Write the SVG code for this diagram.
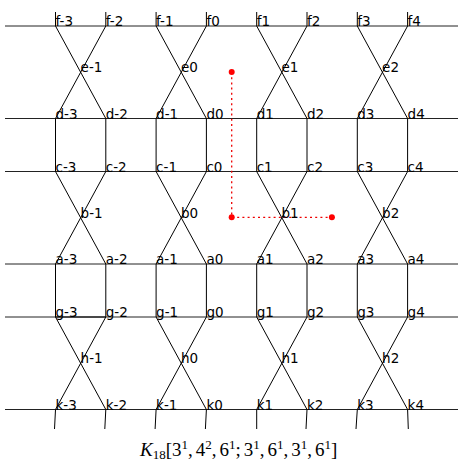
<svg xmlns="http://www.w3.org/2000/svg" width="466" height="465" viewBox="0 0 466 465">
<style>
.ln{stroke:#000;stroke-width:1;fill:none}
.hl{stroke:#222;stroke-width:1;fill:none}
.lb{font-family:"DejaVu Sans",sans-serif;font-size:13.5px;fill:#000}
.rd{stroke:#e00;stroke-width:1.3;stroke-dasharray:2,3.2;fill:none}
.dot{fill:#f00}
.cap{font-family:"Liberation Serif",serif;font-size:19px;fill:#000}
</style>
<rect width="466" height="465" fill="#fff"/>
<g id="connectors">
<path class="hl" d="M5 26H458M5 118.5H458M5 171.5H458M5 264H458M5 317H458M5 409.5H458"/>
<path class="ln" stroke-width="1.6" d="M55.5 317H105.8"/>
<path class="ln" d="M55.5 26V12M105.8 26V12M156.1 26V12M206.4 26V12M256.7 26V12M307 26V12M357.3 26V12M407.6 26V12"/>
<path class="ln" d="M55.5 26L105.8 118.5M105.8 26L55.5 118.5M156.1 26L206.4 118.5M206.4 26L156.1 118.5M256.7 26L307 118.5M307 26L256.7 118.5M357.3 26L407.6 118.5M407.6 26L357.3 118.5"/>
<path class="ln" d="M55.5 118.5V171.5M105.8 118.5V171.5M156.1 118.5V171.5M206.4 118.5V171.5M256.7 118.5V171.5M307 118.5V171.5M357.3 118.5V171.5M407.6 118.5V171.5"/>
<path class="ln" d="M55.5 171.5L105.8 264M105.8 171.5L55.5 264M156.1 171.5L206.4 264M206.4 171.5L156.1 264M256.7 171.5L307 264M307 171.5L256.7 264M357.3 171.5L407.6 264M407.6 171.5L357.3 264"/>
<path class="ln" d="M55.5 264V317M105.8 264V317M156.1 264V317M206.4 264V317M256.7 264V317M307 264V317M357.3 264V317M407.6 264V317"/>
<path class="ln" d="M55.5 317L105.8 409.5M105.8 317L55.5 409.5M156.1 317L206.4 409.5M206.4 317L156.1 409.5M256.7 317L307 409.5M307 317L256.7 409.5M357.3 317L407.6 409.5M407.6 317L357.3 409.5"/>
<path class="ln" d="M55.5 409.5L54.5 429M105.8 409.5L104.8 429M156.1 409.5L155.1 429M206.4 409.5L205.4 429M256.7 409.5L256.7 429M307 409.5L306 429M357.3 409.5L356 429M407.6 409.5L408.3 429"/>
<path class="rd" d="M231.7 72V217.3H331.9"/>
<circle class="dot" cx="231.7" cy="72" r="3"/>
<circle class="dot" cx="231.7" cy="217.3" r="3"/>
<circle class="dot" cx="331.9" cy="217.3" r="3"/>
</g>
<g id="f-3"><text class="lb" x="55.5" y="26">f-3</text></g>
<g id="f-2"><text class="lb" x="105.8" y="26">f-2</text></g>
<g id="f-1"><text class="lb" x="156.1" y="26">f-1</text></g>
<g id="f0"><text class="lb" x="206.4" y="26">f0</text></g>
<g id="f1"><text class="lb" x="256.7" y="26">f1</text></g>
<g id="f2"><text class="lb" x="307" y="26">f2</text></g>
<g id="f3"><text class="lb" x="357.3" y="26">f3</text></g>
<g id="f4"><text class="lb" x="407.6" y="26">f4</text></g>
<g id="e-1"><text class="lb" x="80.6" y="72">e-1</text></g>
<g id="e0"><text class="lb" x="180.9" y="72">e0</text></g>
<g id="e1"><text class="lb" x="281.5" y="72">e1</text></g>
<g id="e2"><text class="lb" x="382.1" y="72">e2</text></g>
<g id="d-3"><text class="lb" x="55.5" y="118.5">d-3</text></g>
<g id="d-2"><text class="lb" x="105.8" y="118.5">d-2</text></g>
<g id="d-1"><text class="lb" x="156.1" y="118.5">d-1</text></g>
<g id="d0"><text class="lb" x="206.4" y="118.5">d0</text></g>
<g id="d1"><text class="lb" x="256.7" y="118.5">d1</text></g>
<g id="d2"><text class="lb" x="307" y="118.5">d2</text></g>
<g id="d3"><text class="lb" x="357.3" y="118.5">d3</text></g>
<g id="d4"><text class="lb" x="407.6" y="118.5">d4</text></g>
<g id="c-3"><text class="lb" x="55.5" y="171.5">c-3</text></g>
<g id="c-2"><text class="lb" x="105.8" y="171.5">c-2</text></g>
<g id="c-1"><text class="lb" x="156.1" y="171.5">c-1</text></g>
<g id="c0"><text class="lb" x="206.4" y="171.5">c0</text></g>
<g id="c1"><text class="lb" x="256.7" y="171.5">c1</text></g>
<g id="c2"><text class="lb" x="307" y="171.5">c2</text></g>
<g id="c3"><text class="lb" x="357.3" y="171.5">c3</text></g>
<g id="c4"><text class="lb" x="407.6" y="171.5">c4</text></g>
<g id="b-1"><text class="lb" x="80.6" y="218">b-1</text></g>
<g id="b0"><text class="lb" x="180.9" y="218">b0</text></g>
<g id="b1"><text class="lb" x="281.5" y="218">b1</text></g>
<g id="b2"><text class="lb" x="382.1" y="218">b2</text></g>
<g id="a-3"><text class="lb" x="55.5" y="264">a-3</text></g>
<g id="a-2"><text class="lb" x="105.8" y="264">a-2</text></g>
<g id="a-1"><text class="lb" x="156.1" y="264">a-1</text></g>
<g id="a0"><text class="lb" x="206.4" y="264">a0</text></g>
<g id="a1"><text class="lb" x="256.7" y="264">a1</text></g>
<g id="a2"><text class="lb" x="307" y="264">a2</text></g>
<g id="a3"><text class="lb" x="357.3" y="264">a3</text></g>
<g id="a4"><text class="lb" x="407.6" y="264">a4</text></g>
<g id="g-3"><text class="lb" x="55.5" y="317">g-3</text></g>
<g id="g-2"><text class="lb" x="105.8" y="317">g-2</text></g>
<g id="g-1"><text class="lb" x="156.1" y="317">g-1</text></g>
<g id="g0"><text class="lb" x="206.4" y="317">g0</text></g>
<g id="g1"><text class="lb" x="256.7" y="317">g1</text></g>
<g id="g2"><text class="lb" x="307" y="317">g2</text></g>
<g id="g3"><text class="lb" x="357.3" y="317">g3</text></g>
<g id="g4"><text class="lb" x="407.6" y="317">g4</text></g>
<g id="h-1"><text class="lb" x="80.6" y="363">h-1</text></g>
<g id="h0"><text class="lb" x="180.9" y="363">h0</text></g>
<g id="h1"><text class="lb" x="281.5" y="363">h1</text></g>
<g id="h2"><text class="lb" x="382.1" y="363">h2</text></g>
<g id="k-3"><text class="lb" x="55.5" y="409.5">k-3</text></g>
<g id="k-2"><text class="lb" x="105.8" y="409.5">k-2</text></g>
<g id="k-1"><text class="lb" x="156.1" y="409.5">k-1</text></g>
<g id="k0"><text class="lb" x="206.4" y="409.5">k0</text></g>
<g id="k1"><text class="lb" x="256.7" y="409.5">k1</text></g>
<g id="k2"><text class="lb" x="307" y="409.5">k2</text></g>
<g id="k3"><text class="lb" x="357.3" y="409.5">k3</text></g>
<g id="k4"><text class="lb" x="407.6" y="409.5">k4</text></g>
<g id="caption"><text class="cap" x="140" y="456"><tspan font-style="italic">K</tspan><tspan font-size="13" dy="3">18</tspan><tspan dy="-3">[3</tspan><tspan font-size="13" dy="-7.5">1</tspan><tspan dy="7.5">,</tspan><tspan dx="3">4</tspan><tspan font-size="13" dy="-7.5">2</tspan><tspan dy="7.5">,</tspan><tspan dx="3">6</tspan><tspan font-size="13" dy="-7.5">1</tspan><tspan dy="7.5">;</tspan><tspan dx="3">3</tspan><tspan font-size="13" dy="-7.5">1</tspan><tspan dy="7.5">,</tspan><tspan dx="3">6</tspan><tspan font-size="13" dy="-7.5">1</tspan><tspan dy="7.5">,</tspan><tspan dx="3">3</tspan><tspan font-size="13" dy="-7.5">1</tspan><tspan dy="7.5">,</tspan><tspan dx="3">6</tspan><tspan font-size="13" dy="-7.5">1</tspan><tspan dy="7.5">]</tspan></text></g>
</svg>
